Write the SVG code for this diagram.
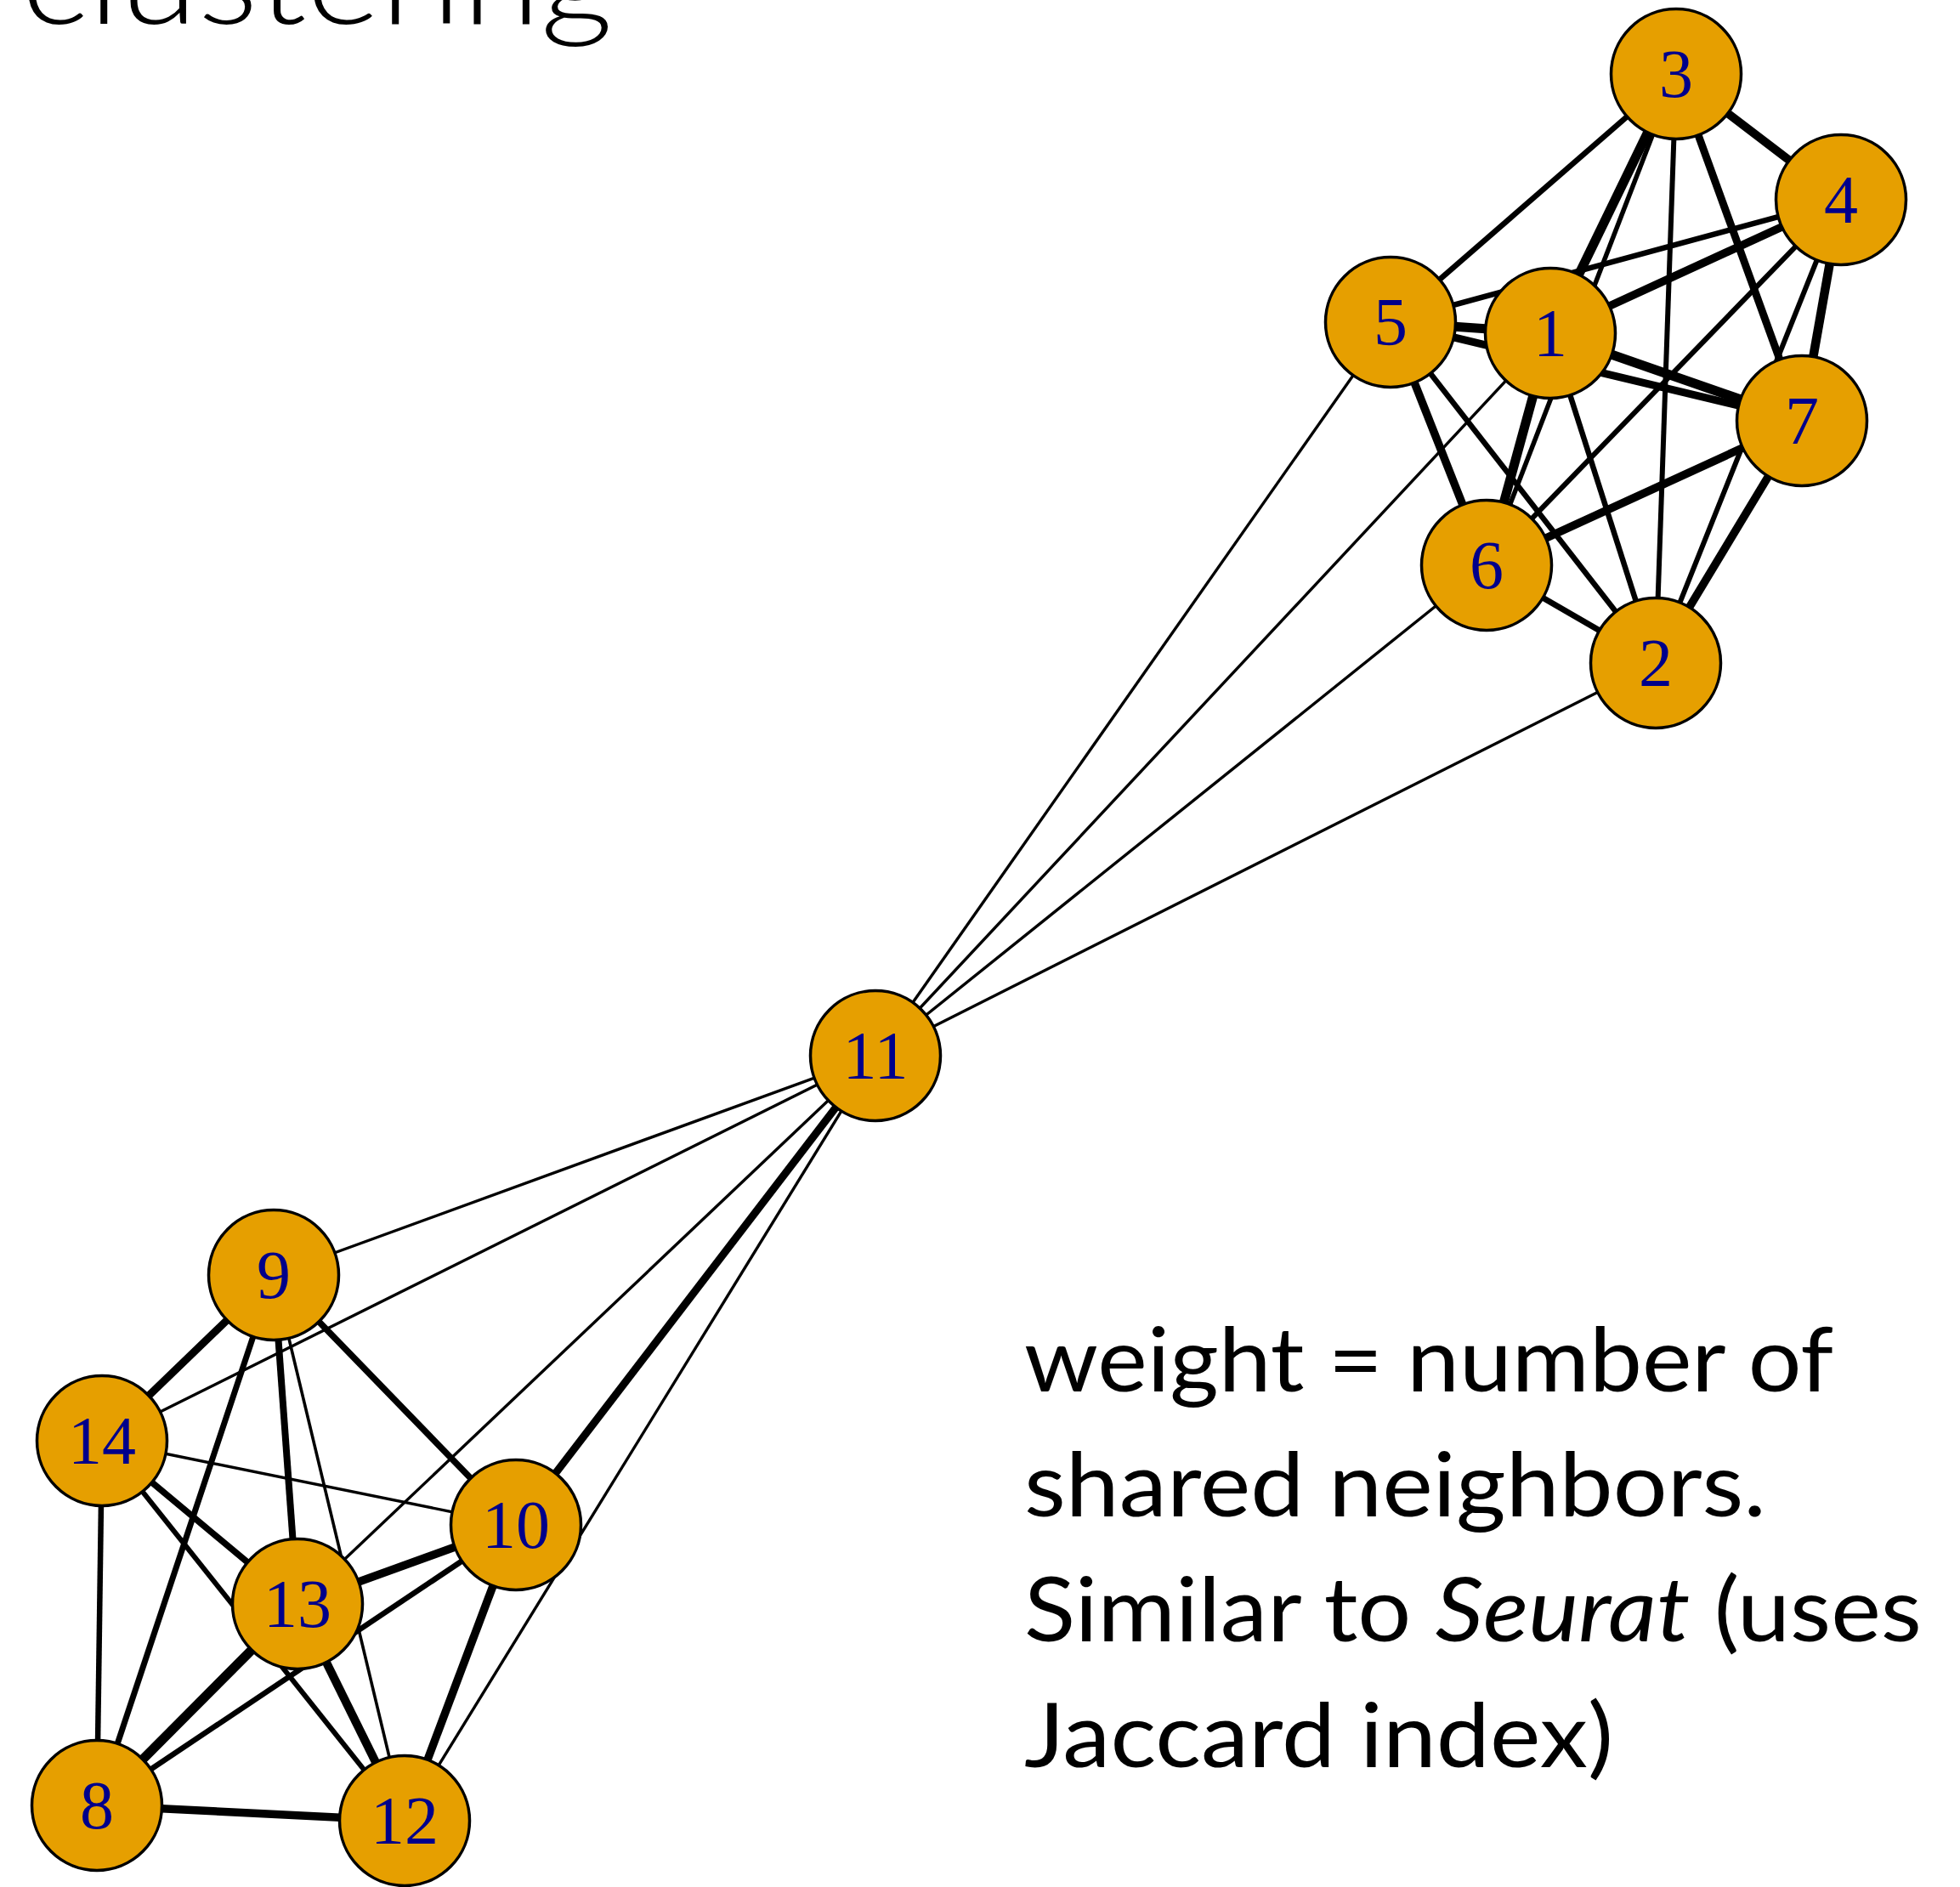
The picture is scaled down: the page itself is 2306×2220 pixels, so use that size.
<svg xmlns="http://www.w3.org/2000/svg" width="2306" height="2220" viewBox="0 0 2306 2220">
  <style>
    .e line { stroke: #000; stroke-linecap: butt; }
    .n circle { fill: #E69F00; stroke: #000; stroke-width: 3.5; }
    .n text { font-family: "Liberation Serif", "Times New Roman", serif; font-size: 80px; fill: #00008B; text-anchor: middle; }
    .cap { font-family: Lato, "Open Sans", sans-serif; font-weight: 400; fill: #000; }
    .head { font-weight: 300; }
  </style>
  <rect width="2306" height="2220" fill="#fff"/>

  <!-- heading, clipped by the top edge -->
  <text class="cap head" x="25" y="28" font-size="147" textLength="696" lengthAdjust="spacingAndGlyphs">clustering</text>

  <!-- edges, width ~ number of shared neighbours -->
  <g id="edges" class="e">
    <!-- upper cluster -->
    <line x1="1972" y1="87" x2="2166" y2="235" stroke-width="10"/>
    <line x1="1972" y1="87" x2="1636" y2="379" stroke-width="6.5"/>
    <line x1="1972" y1="87" x2="1824" y2="392" stroke-width="11"/>
    <line x1="1972" y1="87" x2="1749" y2="665" stroke-width="5.5"/>
    <line x1="1972" y1="87" x2="1948" y2="780" stroke-width="6"/>
    <line x1="1972" y1="87" x2="2120" y2="495" stroke-width="9"/>
    <line x1="2166" y1="235" x2="1636" y2="379" stroke-width="6.5"/>
    <line x1="2166" y1="235" x2="1824" y2="392" stroke-width="9.5"/>
    <line x1="2166" y1="235" x2="1749" y2="665" stroke-width="6"/>
    <line x1="2166" y1="235" x2="2120" y2="495" stroke-width="10.5"/>
    <line x1="2166" y1="235" x2="1948" y2="780" stroke-width="6"/>
    <line x1="1636" y1="379" x2="1824" y2="392" stroke-width="11"/>
    <line x1="1636" y1="379" x2="2120" y2="495" stroke-width="9"/>
    <line x1="1636" y1="379" x2="1749" y2="665" stroke-width="9.5"/>
    <line x1="1636" y1="379" x2="1948" y2="780" stroke-width="6.5"/>
    <line x1="1824" y1="392" x2="2120" y2="495" stroke-width="11"/>
    <line x1="1824" y1="392" x2="1749" y2="665" stroke-width="11"/>
    <line x1="1824" y1="392" x2="1948" y2="780" stroke-width="6.5"/>
    <line x1="1749" y1="665" x2="2120" y2="495" stroke-width="9.5"/>
    <line x1="1749" y1="665" x2="1948" y2="780" stroke-width="7"/>
    <line x1="2120" y1="495" x2="1948" y2="780" stroke-width="9.5"/>
    <!-- bridges through node 11 -->
    <line x1="1030" y1="1242" x2="1636" y2="379" stroke-width="3.4"/>
    <line x1="1030" y1="1242" x2="1824" y2="392" stroke-width="3.4"/>
    <line x1="1030" y1="1242" x2="1749" y2="665" stroke-width="3.4"/>
    <line x1="1030" y1="1242" x2="1948" y2="780" stroke-width="3.4"/>
    <line x1="1030" y1="1242" x2="322" y2="1500" stroke-width="3.4"/>
    <line x1="1030" y1="1242" x2="120" y2="1695" stroke-width="3.4"/>
    <line x1="1030" y1="1242" x2="350" y2="1887" stroke-width="3.4"/>
    <line x1="1030" y1="1242" x2="607" y2="1794" stroke-width="9"/>
    <line x1="1030" y1="1242" x2="476" y2="2142" stroke-width="3.4"/>
    <!-- lower cluster -->
    <line x1="322" y1="1500" x2="120" y2="1695" stroke-width="9"/>
    <line x1="322" y1="1500" x2="114" y2="2124" stroke-width="7"/>
    <line x1="322" y1="1500" x2="350" y2="1887" stroke-width="8"/>
    <line x1="322" y1="1500" x2="476" y2="2142" stroke-width="3.6"/>
    <line x1="322" y1="1500" x2="607" y2="1794" stroke-width="7.5"/>
    <line x1="120" y1="1695" x2="607" y2="1794" stroke-width="3.4"/>
    <line x1="120" y1="1695" x2="350" y2="1887" stroke-width="7.5"/>
    <line x1="120" y1="1695" x2="476" y2="2142" stroke-width="6"/>
    <line x1="120" y1="1695" x2="114" y2="2124" stroke-width="6.5"/>
    <line x1="350" y1="1887" x2="607" y2="1794" stroke-width="9.5"/>
    <line x1="350" y1="1887" x2="114" y2="2124" stroke-width="11"/>
    <line x1="350" y1="1887" x2="476" y2="2142" stroke-width="10"/>
    <line x1="607" y1="1794" x2="114" y2="2124" stroke-width="6.5"/>
    <line x1="607" y1="1794" x2="476" y2="2142" stroke-width="9.5"/>
    <line x1="114" y1="2124" x2="476" y2="2142" stroke-width="9.5"/>
  </g>

  <!-- vertices -->
  <g id="node-1" class="n"><circle cx="1824" cy="392" r="76.5"/><text x="1824" y="419">1</text></g>
  <g id="node-2" class="n"><circle cx="1948" cy="780" r="76.5"/><text x="1948" y="807">2</text></g>
  <g id="node-3" class="n"><circle cx="1972" cy="87" r="76.5"/><text x="1972" y="114">3</text></g>
  <g id="node-4" class="n"><circle cx="2166" cy="235" r="76.5"/><text x="2166" y="262">4</text></g>
  <g id="node-5" class="n"><circle cx="1636" cy="379" r="76.5"/><text x="1636" y="406">5</text></g>
  <g id="node-6" class="n"><circle cx="1749" cy="665" r="76.5"/><text x="1749" y="692">6</text></g>
  <g id="node-7" class="n"><circle cx="2120" cy="495" r="76.5"/><text x="2120" y="522">7</text></g>
  <g id="node-8" class="n"><circle cx="114" cy="2124" r="76.5"/><text x="114" y="2151">8</text></g>
  <g id="node-9" class="n"><circle cx="322" cy="1500" r="76.5"/><text x="322" y="1527">9</text></g>
  <g id="node-10" class="n"><circle cx="607" cy="1794" r="76.5"/><text x="607" y="1821">10</text></g>
  <g id="node-11" class="n"><circle cx="1030" cy="1242" r="76.5"/><text x="1030" y="1269">11</text></g>
  <g id="node-12" class="n"><circle cx="476" cy="2142" r="76.5"/><text x="476" y="2169">12</text></g>
  <g id="node-13" class="n"><circle cx="350" cy="1887" r="76.5"/><text x="350" y="1914">13</text></g>
  <g id="node-14" class="n"><circle cx="120" cy="1695" r="76.5"/><text x="120" y="1722">14</text></g>

  <!-- note -->
  <g id="note" class="cap" font-size="105">
    <text x="1205" y="1637" textLength="952" lengthAdjust="spacingAndGlyphs">weight = number of</text>
    <text x="1205" y="1784" textLength="873" lengthAdjust="spacingAndGlyphs">shared neighbors.</text>
    <text x="1205" y="1931" textLength="1056" lengthAdjust="spacingAndGlyphs">Similar to <tspan font-style="italic">Seurat</tspan> (uses</text>
    <text x="1205" y="2079" textLength="693" lengthAdjust="spacingAndGlyphs">Jaccard index)</text>
  </g>
</svg>
